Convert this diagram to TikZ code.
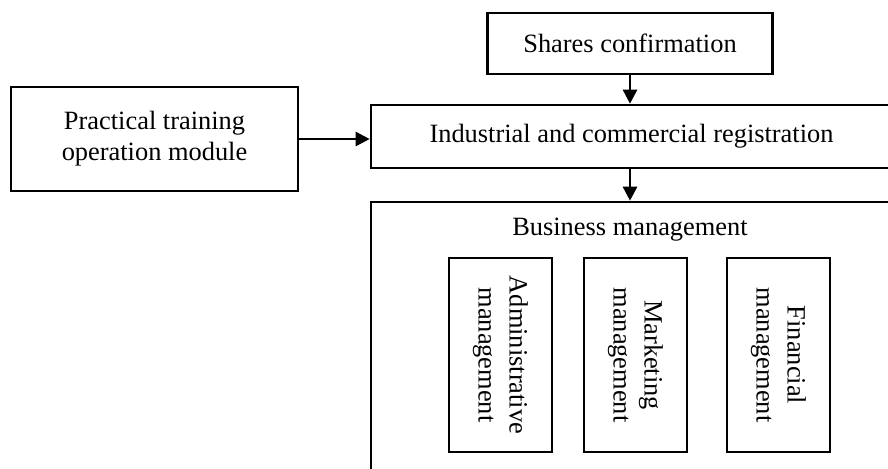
\documentclass[tikz,border=0pt]{standalone}
\usepackage{fontspec}
\setmainfont{Liberation Serif}
\usetikzlibrary{arrows.meta,positioning}

\tikzset{
	box/.style={draw, line width=1.3pt, rectangle, align=center, inner sep=0pt},
	subbox/.style={box, minimum width=51.5pt, minimum height=97pt},
	flow/.style={line width=1.3pt, -{Triangle[length=7pt,width=7pt]}}
}

\begin{document}
\begin{tikzpicture}[x=0.5pt,y=-0.5pt,font=\fontsize{13.2}{15.5}\selectfont]
	\useasboundingbox (0,0) rectangle (888,468);
	\clip (0,0) rectangle (888,468);

	\node[box, minimum width=142.5pt, minimum height=30.5pt] (shares) at (630,43.5) {Shares confirmation};
	\node[box, minimum width=264pt, minimum height=31.5pt] (ind) at (635,136.5) {};
	\node (indname) at (631.5,136.5) {Industrial and commercial registration};
	\node[box, minimum width=143.5pt, minimum height=52pt] (prac) at (154.5,139) {Practical training\\operation module};
	\node[box, minimum width=264pt, minimum height=150pt] (biz) at (635,352) {};
	\node (bizname) at (630,230) {Business management};

	\node[subbox] (admin) at (500.5,355) {};
	\node[rotate=-90, align=center] at (admin) {Administrative\\management};
	\node[subbox] (mkt) at (635.5,355) {};
	\node[rotate=-90, align=center] at (mkt) {Marketing\\management};
	\node[subbox] (fin) at (778.5,355) {};
	\node[rotate=-90, align=center] at (fin) {Financial\\management};

	\draw[flow] (shares.south) -- (shares.south |- ind.north);
	\draw[flow] (ind.south -| shares.south) -- (shares.south |- biz.north);
	\draw[flow] (prac.east) -- (prac.east -| ind.west);
\end{tikzpicture}
\end{document}
